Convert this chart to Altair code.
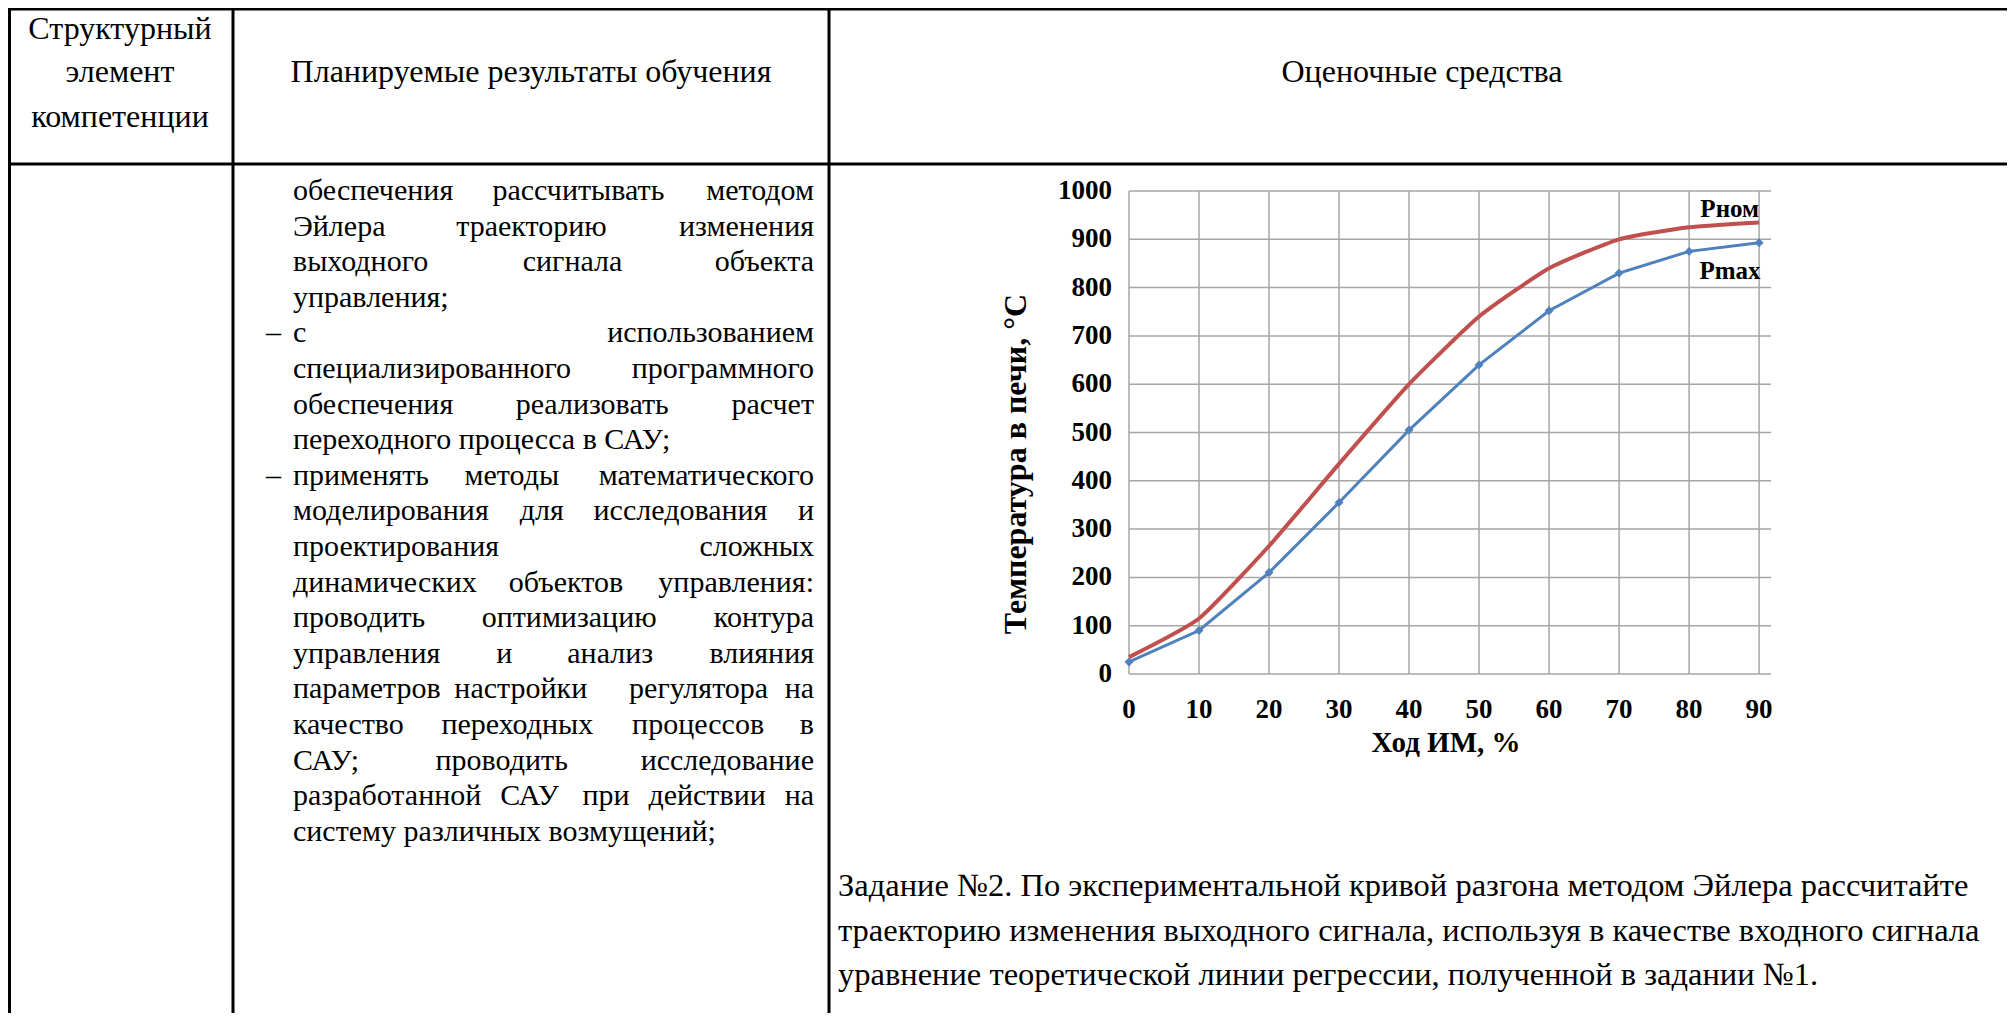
import altair as alt
import pandas as pd

# ---------------- chart data ----------------
hod_im = [0, 10, 20, 30, 40, 50, 60, 70, 80, 90]
t_nom = [35, 115, 265, 435, 600, 740, 840, 900, 925, 935]
t_max = [25, 90, 210, 355, 505, 640, 752, 830, 875, 893]
x_ticks = [0, 10, 20, 30, 40, 50, 60, 70, 80, 90]
y_ticks = [0, 100, 200, 300, 400, 500, 600, 700, 800, 900, 1000]
series_names = ["Рном", "Pmax"]
x_title = "Ход ИМ, %"
y_title = "Температура в печи, °С"

# ---------------- table text ----------------
header_col1 = ["Структурный", "элемент", "компетенции"]
header_col2 = "Планируемые результаты обучения"
header_col3 = "Оценочные средства"
body_lines = [
    "обеспечения рассчитывать методом",
    "Эйлера траекторию изменения",
    "выходного сигнала объекта",
    "управления;",
    "с использованием",
    "специализированного программного",
    "обеспечения реализовать расчет",
    "переходного процесса в САУ;",
    "применять методы математического",
    "моделирования для исследования и",
    "проектирования сложных",
    "динамических объектов управления:",
    "проводить оптимизацию контура",
    "управления и анализ влияния",
    "параметров настройки   регулятора на",
    "качество переходных процессов в",
    "САУ; проводить исследование",
    "разработанной САУ при действии на",
    "систему различных возмущений;",
]
body_modes = ["j", "j", "j", "l", "j", "j", "j", "l", "j", "j", "j", "j",
              "j", "j", "j", "j", "j", "j", "l"]
dash_lines = [4, 8]
task_lines = [
    "Задание №2. По экспериментальной кривой разгона методом Эйлера рассчитайте",
    "траекторию изменения выходного сигнала, используя в качестве входного сигнала",
    "уравнение теоретической линии регрессии, полученной в задании №1.",
]

# ---------------- layout (page pixels) ----------------
OFF = 8
W, H = 1999, 1005
def p(v):
    return v - OFF

SERIF = "Liberation Serif"
BODY_FS = 30
HEAD_FS = 32
TASK_FS = 32.5
CH_FS = 27

EM = {
    'а': .444, 'б': .509, 'в': .472, 'г': .410, 'д': .509, 'е': .444, 'ж': .691,
    'з': .395, 'и': .535, 'й': .535, 'к': .486, 'л': .499, 'м': .633, 'н': .535,
    'о': .5, 'п': .535, 'р': .5, 'с': .444, 'т': .437, 'у': .5, 'ф': .648,
    'х': .5, 'ц': .535, 'ч': .503, 'ш': .770, 'щ': .770, 'ъ': .517, 'ы': .672,
    'ь': .456, 'э': .429, 'ю': .747, 'я': .482,
    'С': .667, 'А': .722, 'У': .72, 'Э': .66,
    ' ': .25, ',': .25, '.': .25, ';': .278, ':': .278,
}
def tw(s, fs):
    return sum(EM.get(c, .5) for c in s) * fs

L_X, R_X = 293, 814
BASE0, STEP = 200, 35.6

left_rows, right_rows = [], []
for i, (line, mode) in enumerate(zip(body_lines, body_modes)):
    yb = BASE0 + i * STEP
    if mode == "l":
        left_rows.append({"x": p(L_X), "y": p(yb), "t": line})
        continue
    toks = line.split(" ")
    widths = [tw(t, BODY_FS) for t in toks]
    gap = (R_X - L_X - sum(widths)) / (len(toks) - 1)
    cx = L_X
    for k, (t, w) in enumerate(zip(toks, widths)):
        if t:
            if k == len(toks) - 1:
                right_rows.append({"x": p(R_X), "y": p(yb), "t": t})
            else:
                left_rows.append({"x": p(cx), "y": p(yb), "t": t})
        cx += w + gap
for i in dash_lines:
    left_rows.append({"x": p(266), "y": p(BASE0 + i * STEP), "t": "–"})

task_df = pd.DataFrame({"x": [p(838)] * 3,
                        "y": [p(896 + i * 44.5) for i in range(3)],
                        "t": task_lines})

head_df = pd.DataFrame({
    "x": [p(120)] * 3 + [p(531), p(1422)],
    "y": [p(39), p(82), p(127), p(82), p(82)],
    "t": header_col1 + [header_col2, header_col3],
})

rules_df = pd.DataFrame({
    "x": [p(9.5), p(233), p(829), p(8), p(8)],
    "x2": [p(9.5), p(233), p(829), W, W],
    "y": [p(8), p(8), p(8), p(9), p(164)],
    "y2": [H, H, H, p(9), p(164)],
})

rules = alt.Chart(rules_df).mark_rule(color="black", strokeWidth=3).encode(
    x=alt.X("x:Q", scale=None, axis=None), x2="x2:Q",
    y=alt.Y("y:Q", scale=None, axis=None), y2="y2:Q")

def text_layer(df, align, fs):
    return alt.Chart(df).mark_text(align=align, baseline="alphabetic", font=SERIF,
                                   fontSize=fs, color="black").encode(
        x=alt.X("x:Q", scale=None, axis=None),
        y=alt.Y("y:Q", scale=None, axis=None),
        text="t:N")

body_left = text_layer(pd.DataFrame(left_rows), "left", BODY_FS)
body_right = text_layer(pd.DataFrame(right_rows), "right", BODY_FS)
heads = text_layer(head_df, "center", HEAD_FS)
task = text_layer(task_df, "left", TASK_FS)

# ---------------- inner chart ----------------
XMAX = 91.7
xs = alt.Scale(domain=[0, XMAX], range=[p(1129), p(1771)], nice=False, zero=False)
ys = alt.Scale(domain=[0, 1000], range=[p(674), p(191)], nice=False, zero=False)

vgrid = alt.Chart(pd.DataFrame({"gx": x_ticks, "g0": 0, "g1": 1000})).mark_rule(
    color="#A6A6A6", strokeWidth=1.5).encode(
    x=alt.X("gx:Q", scale=xs, axis=None),
    y=alt.Y("g0:Q", scale=ys, axis=None), y2="g1:Q")
hgrid = alt.Chart(pd.DataFrame({"gy": y_ticks, "g0": 0, "g1": XMAX})).mark_rule(
    color="#A6A6A6", strokeWidth=1.5).encode(
    y=alt.Y("gy:Q", scale=ys, axis=None),
    x=alt.X("g0:Q", scale=xs, axis=None), x2="g1:Q")

df = pd.DataFrame({"x": hod_im, "nom": t_nom, "mx": t_max})
red = alt.Chart(df).mark_line(color="#C0504D", strokeWidth=4, interpolate="cardinal",
                              tension=0.5).encode(
    x=alt.X("x:Q", scale=xs, axis=None), y=alt.Y("nom:Q", scale=ys, axis=None))
blue = alt.Chart(df).mark_line(color="#4F81BD", strokeWidth=3).encode(
    x=alt.X("x:Q", scale=xs, axis=None), y=alt.Y("mx:Q", scale=ys, axis=None))
pts = alt.Chart(df).mark_point(shape="diamond", filled=True, color="#4F81BD",
                               size=80, opacity=1).encode(
    x=alt.X("x:Q", scale=xs, axis=None), y=alt.Y("mx:Q", scale=ys, axis=None))

xlab = alt.Chart(pd.DataFrame({"v": x_ticks, "t": [str(v) for v in x_ticks]})).mark_text(
    font=SERIF, fontWeight="bold", fontSize=CH_FS, baseline="middle", align="center",
    color="black").encode(
    x=alt.X("v:Q", scale=xs, axis=None), y=alt.value(p(710)), text="t:N")
ylab = alt.Chart(pd.DataFrame({"v": y_ticks, "t": [str(v) for v in y_ticks]})).mark_text(
    font=SERIF, fontWeight="bold", fontSize=CH_FS, baseline="middle", align="right",
    color="black").encode(
    y=alt.Y("v:Q", scale=ys, axis=None), x=alt.value(p(1112)), text="t:N")

xt = alt.Chart(pd.DataFrame({"t": [x_title]})).mark_text(
    font=SERIF, fontWeight="bold", fontSize=29, baseline="middle", align="center",
    color="black").encode(x=alt.value(p(1446)), y=alt.value(p(743)), text="t:N")
yt = alt.Chart(pd.DataFrame({"t": [y_title]})).mark_text(
    font=SERIF, fontWeight="bold", fontSize=32, baseline="middle", align="center",
    angle=270, color="black").encode(x=alt.value(p(1016)), y=alt.value(p(464)), text="t:N")

leg = alt.Chart(pd.DataFrame({"x": [90.0, 90.2], "y": [963, 835], "t": series_names})).mark_text(
    font=SERIF, fontWeight="bold", fontSize=25, baseline="middle", align="right",
    color="black").encode(
    x=alt.X("x:Q", scale=xs, axis=None), y=alt.Y("y:Q", scale=ys, axis=None), text="t:N")

chart = alt.layer(
    rules, heads, body_left, body_right, task,
    vgrid, hgrid, red, blue, pts, xlab, ylab, xt, yt, leg
).resolve_scale(x="independent", y="independent").properties(
    width=W, height=H, autosize=alt.AutoSizeParams(type="none"), padding=0,
    background="white"
).configure_view(stroke=None)

chart.save("out.html", embed_options={"renderer": "svg", "actions": False})
